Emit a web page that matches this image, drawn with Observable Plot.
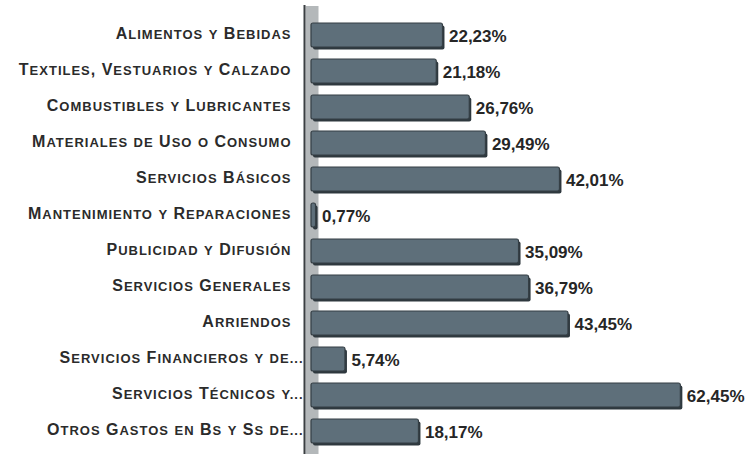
<!DOCTYPE html>
<html>
<head>
<meta charset="utf-8">
<script src="https://cdn.jsdelivr.net/npm/d3@7"></script>
<script src="https://cdn.jsdelivr.net/npm/@observablehq/plot@0.6"></script>
<style>
  html, body { margin: 0; padding: 0; background: #fff; }
  #chart { width: 751px; height: 454px; }
</style>
</head>
<body>
<div id="chart"></div>
<script>
const categories = [
  "Alimentos y Bebidas",
  "Textiles, Vestuarios y Calzado",
  "Combustibles y Lubricantes",
  "Materiales de Uso o Consumo",
  "Servicios Básicos",
  "Mantenimiento y Reparaciones",
  "Publicidad y Difusión",
  "Servicios Generales",
  "Arriendos",
  "Servicios Financieros y de...",
  "Servicios Técnicos y...",
  "Otros Gastos en Bs y Ss de..."
];
const values = [22.23, 21.18, 26.76, 29.49, 42.01, 0.77, 35.09, 36.79, 43.45, 5.74, 62.45, 18.17];

const data = categories.map((c, i) => ({cat: c, v: values[i]}));
const fmt = v => v.toFixed(2).replace(".", ",") + "%";

const chart = Plot.plot({
  width: 751,
  height: 454,
  marginLeft: 311,
  marginRight: 26,
  marginTop: 12,
  marginBottom: 1,
  x: {domain: [0, 70], axis: null},
  y: {domain: categories, paddingInner: 0.34, paddingOuter: 0.2, label: null},
  style: {fontFamily: "Liberation Sans, Arial, sans-serif", background: "#fff"},
  marks: [
    Plot.ruleX([0], {stroke: "#b4b8ba", strokeWidth: 13, dx: 0.5, insetTop: -6, insetBottom: -1}),
    Plot.ruleX([0], {stroke: "#3a3f42", strokeWidth: 2, dx: -7, insetTop: -7, insetBottom: -1}),
    Plot.barX(data, {x: "v", y: "cat", fill: "#2e383e", dx: 2, dy: 2.5, rx: 2}),
    Plot.barX(data, {x: "v", y: "cat", fill: "#5e6f7a", stroke: "#353f45", strokeWidth: 1.2, rx: 2}),
    Plot.text(data, {x: "v", y: "cat", text: d => fmt(d.v), dx: 6, dy: 1.5, textAnchor: "start", fontSize: 17, fontWeight: "bold", fill: "#262626", letterSpacing: 0.8}),
    Plot.axisY({tickSize: 0, tickPadding: 20, dy: -2, fontSize: 16, fontWeight: "bold", fill: "#2b2b2b", textAnchor: "end", label: null})
  ]
});

// Render the tick labels in small caps (full-size capitals, reduced-size capitals for lower-case letters)
d3.select(chart).selectAll('g[aria-label="y-axis tick label"] text').each(function() {
  const el = d3.select(this);
  const s = el.text();
  el.text(null).style("letter-spacing", "1px");
  const hanging = s.endsWith("...");
  const body = hanging ? s.slice(0, -3) : s;
  const runs = [];
  for (const ch of body) {
    const small = ch !== ch.toUpperCase();
    const last = runs[runs.length - 1];
    if (last && last.small === small) last.t += ch; else runs.push({small, t: ch});
  }
  if (hanging) runs.push({small: true, t: "..."});
  for (const r of runs) {
    el.append("tspan").attr("font-size", r.small ? 13 : 16).text(r.small ? r.t.toUpperCase() : r.t);
  }
  if (hanging) el.attr("dx", 12);
});

document.getElementById("chart").appendChild(chart);
</script>
</body>
</html>
